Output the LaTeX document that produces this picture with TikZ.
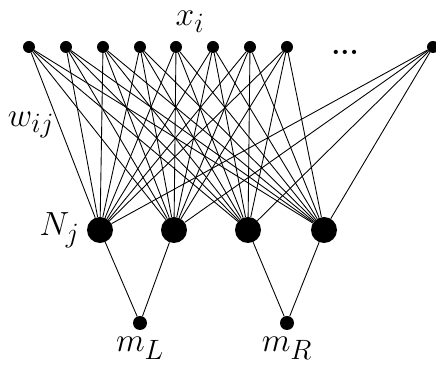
\documentclass[tikz,border=0pt]{standalone}
\usetikzlibrary{positioning}
\begin{document}
\begin{tikzpicture}[x=0.03cm,y=-0.03cm,
  inp/.style={circle, fill=black, inner sep=0pt, minimum size=0.36cm},
  hid/.style={circle, fill=black, inner sep=0pt, minimum size=0.78cm},
  outp/.style={circle, fill=black, inner sep=0pt, minimum size=0.42cm},
  lbl/.style={inner sep=0pt, font=\Huge, scale=1.15, transform shape},
  wire/.style={line width=0.75pt}]
  \useasboundingbox (0,0) rectangle (436,373);
  % input layer
  \foreach \i/\x in {1/29,2/66,3/103,4/140,5/176,6/213,7/250,8/287,9/433}
    \node[inp] (x\i) at (\x,47) {};
  % hidden layer
  \foreach \j/\x in {1/100,2/174,3/248,4/324}
    \node[hid] (n\j) at (\x,230) {};
  % outputs
  \node[outp] (mL) at (140,323) {};
  \node[outp] (mR) at (287,323) {};
  % weights
  \foreach \i in {1,...,9}
    \foreach \j in {1,...,4}
      \draw[wire] (x\i) -- (n\j);
  \draw[wire] (n1) -- (mL);
  \draw[wire] (n2) -- (mL);
  \draw[wire] (n3) -- (mR);
  \draw[wire] (n4) -- (mR);
  % labels
  \node[lbl] (xlab) at (190,22) {$x_i$};
  \node[lbl] (wlab) at (31,125) {$w_{ij}$};
  \node[lbl, left=6pt of n1] (nlab) {$N_j$};
  \node[lbl, below=6pt of mL] (mLlab) {$m_L$};
  \node[lbl, below=6pt of mR] (mRlab) {$m_R$};
  \node[inner sep=0pt, font=\Huge\bfseries] (dots) at (345,52) {...};
\end{tikzpicture}
\end{document}
